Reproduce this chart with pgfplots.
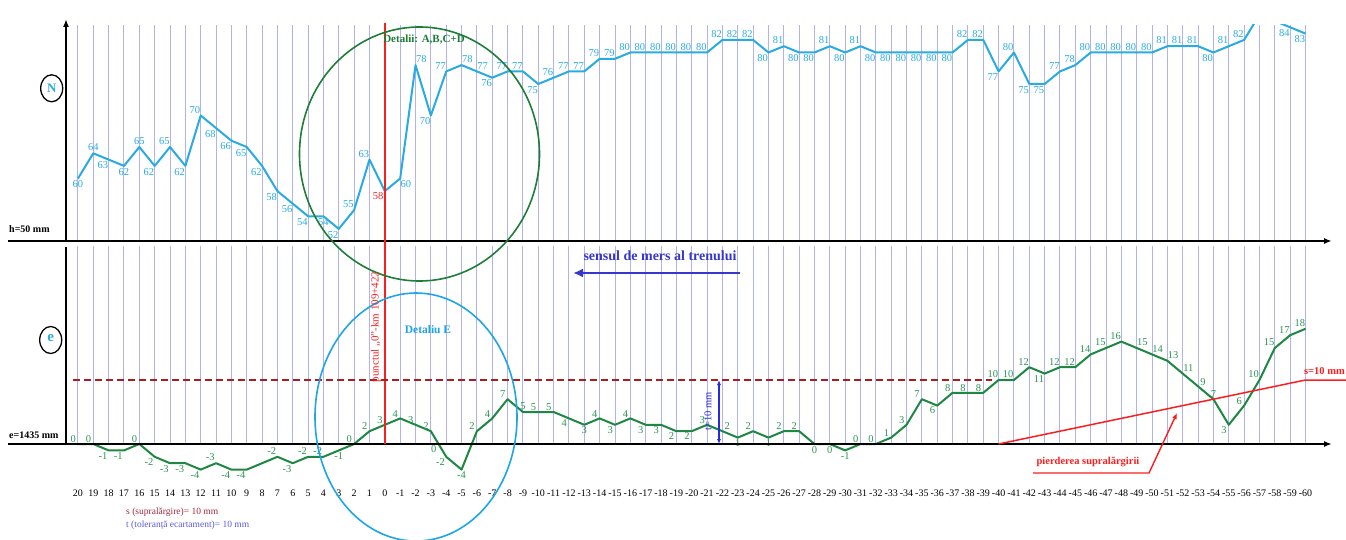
\documentclass[border=0pt]{standalone}
\usepackage{pgfplots}
\pgfplotsset{compat=1.18}
\usepackage{pgfplotstable}
\usepackage{fontspec}
\setmainfont{Liberation Serif}
\usetikzlibrary{arrows.meta}

\definecolor{nblue}{RGB}{41,171,226}
\definecolor{egreen}{RGB}{30,135,65}
\definecolor{elab}{RGB}{45,150,80}
\definecolor{gridc}{RGB}{178,178,238}
\definecolor{cgreen}{RGB}{30,125,55}
\definecolor{eblue}{RGB}{30,165,230}
\definecolor{dred}{RGB}{170,30,30}
\definecolor{sred}{RGB}{250,30,30}
\definecolor{sblue}{RGB}{55,55,205}
\definecolor{tblue}{RGB}{40,40,220}
\definecolor{noter}{RGB}{165,40,60}
\definecolor{notet}{RGB}{90,90,220}

% anc: anchor angle (90 = label below point, -90 = above, 45 = below-left, -45 = above-left, 135 = below-right, -135 = above-right)
\pgfplotstableread{
x y lab anc
20 60 60 90
19 64 64 -90
18 63 63 45
17 62 62 90
16 65 65 -90
15 62 62 45
14 65 65 -45
13 62 62 45
12 70 70 -45
11 68 68 45
10 66 66 45
9 65 65 45
8 62 62 45
7 58 58 45
6 56 56 45
5 54 54 45
4 54 54 90
3 52 52 45
2 55 55 -45
1 63 63 -45
0 58 {} 45
-1 60 60 135
-2 78 78 -135
-3 70 70 45
-4 77 77 -45
-5 78 78 -135
-6 77 77 -135
-7 76 76 45
-8 77 77 -45
-9 77 77 -45
-10 75 75 45
-11 76 76 -45
-12 77 77 -45
-13 77 77 -45
-14 79 79 -45
-15 79 79 -45
-16 80 80 -45
-17 80 80 -45
-18 80 80 -45
-19 80 80 -45
-20 80 80 -45
-21 80 80 -45
-22 82 82 -45
-23 82 82 -45
-24 82 82 -45
-25 80 80 45
-26 81 81 -45
-27 80 80 45
-28 80 80 45
-29 81 81 -45
-30 80 80 45
-31 81 81 -45
-32 80 80 45
-33 80 80 45
-34 80 80 45
-35 80 80 45
-36 80 80 45
-37 80 80 45
-38 82 82 -45
-39 82 82 -45
-40 77 77 45
-41 80 80 -45
-42 75 75 45
-43 75 75 45
-44 77 77 -45
-45 78 78 -45
-46 80 80 -45
-47 80 80 -45
-48 80 80 -45
-49 80 80 -45
-50 80 80 -45
-51 81 81 -45
-52 81 81 -45
-53 81 81 -45
-54 80 80 45
-55 81 81 -45
-56 82 82 -45
-57 86 86 -45
-58 85 85 45
-59 84 84 45
-60 83 83 45
}\Ndata

\pgfplotstableread{
x y lab anc
20 0 0 -45
19 0 0 -45
18 -1 -1 45
17 -1 -1 45
16 0 0 -45
15 -2 -2 45
14 -3 -3 45
13 -3 -3 45
12 -4 -4 45
11 -3 -3 -45
10 -4 -4 45
9 -4 -4 45
8 -3 {} 90
7 -2 -2 -45
6 -3 -3 45
5 -2 -2 -45
4 -2 -2 -45
3 -1 -1 90
2 0 0 -45
1 2 2 -45
0 3 3 -45
-1 4 4 -45
-2 3 3 -45
-3 2 2 -45
-3.5 0 0 45
-4 -2 -2 45
-5 -4 -4 90
-6 2 2 -45
-7 4 4 -45
-8 7 7 -45
-9 5 5 -90
-10 5 5 -45
-11 5 5 -45
-12 4 4 45
-13 3 3 90
-14 4 4 -45
-15 3 3 45
-16 4 4 -45
-17 3 3 45
-18 3 3 45
-19 2 2 45
-20 2 2 45
-21 3 3 -45
-22 2 2 -135
-23 1 1 90
-24 2 2 -45
-25 1 1 90
-26 2 2 -45
-27 2 2 -45
-28 0 0 90
-29 0 0 90
-30 -1 -1 90
-31 0 0 -45
-32 0 0 -45
-33 1 1 -45
-34 3 3 -45
-35 7 7 -45
-36 6 6 45
-37 8 8 -45
-38 8 8 -45
-39 8 8 -45
-40 10 10 -45
-41 10 10 -45
-42 12 12 -45
-43 11 11 45
-44 12 12 -45
-45 12 12 -45
-46 14 14 -45
-47 15 15 -45
-48 16 16 -45
-49 15 15 -135
-50 14 14 -135
-51 13 13 -135
-52 11 11 -135
-53 9 9 -135
-54 7 7 -90
-55 3 3 45
-56 6 6 -45
-57 10 10 -45
-58 15 15 -45
-59 17 17 -45
-60 18 18 -45
}\Edata

\pgfplotsset{
  myax/.style={
    scale only axis, anchor=south west,
    width=1264pt,
    x dir=reverse, xmin=-61.6, xmax=20.78,
    axis line style={draw=none}, tick style={draw=none},
    xtick={-60,...,20}, ytick=\empty,
    xmajorgrids, major grid style={gridc, line width=1pt},
  },
  lab/.style={
    nodes near coords, point meta=explicit symbolic,
    visualization depends on={\thisrow{anc}\as\myanc},
    every node near coord/.append style={font=\fontsize{10.5}{10.5}\selectfont, inner sep=1.2pt, anchor=\myanc},
  },
}

\begin{document}
\begin{tikzpicture}
\useasboundingbox (0pt,0pt) rectangle (1346pt,539pt);

% top panel: N
\begin{axis}[myax, at={(66pt,297.5pt)}, height=216.72pt,
  ymin=50, ymax=84.4, xticklabels={}, clip=true]
\addplot[nblue, line width=2pt, mark=none, line join=round, lab,
  every node near coord/.append style={text=nblue}]
  table[x=x, y=y, meta=lab]{\Ndata};
\addplot[draw=none, mark=none, nodes near coords, point meta=explicit symbolic,
  every node near coord/.append style={text=sred, font=\fontsize{10.5}{10.5}\selectfont, inner sep=1.2pt, anchor=north east}]
  coordinates {(0,58) [58]};
\end{axis}

% bottom panel: e
\begin{axis}[myax, at={(66pt,95pt)}, height=198.4pt,
  ymin=0, ymax=31, clip=false,
  xticklabels={-60,-59,-58,-57,-56,-55,-54,-53,-52,-51,-50,-49,-48,-47,-46,-45,-44,-43,-42,-41,-40,-39,-38,-37,-36,-35,-34,-33,-32,-31,-30,-29,-28,-27,-26,-25,-24,-23,-22,-21,-20,-19,-18,-17,-16,-15,-14,-13,-12,-11,-10,-9,-8,-7,-6,-5,-4,-3,-2,-1,0,1,2,3,4,5,6,7,8,9,10,11,12,13,14,15,16,17,18,19,20},
  xticklabel style={font=\fontsize{10}{10}\selectfont, anchor=center, yshift=-49pt}]
\addplot[egreen, line width=2pt, mark=none, line join=round, lab,
  every node near coord/.append style={text=elab}]
  table[x=x, y=y, meta=lab]{\Edata};
\end{axis}

\begin{scope}[x=1pt, y=-1pt, shift={(0pt,539pt)}]
  % axis lines
  \draw[line width=2pt, -{Latex[length=8pt,width=6pt]}] (8,241) -- (1332,241);
  \draw[line width=1.6pt, -{Latex[length=8pt,width=6pt]}] (66,241) -- (66,19);
  \draw[line width=2pt, -{Latex[length=8pt,width=6pt]}] (8,444) -- (1332,444);
  \draw[line width=1.6pt] (66,444) -- (66,247);
  % red zero line
  \draw[sred, line width=1.5pt] (385,23) -- (385,444);
  % s dashed line
  \draw[dred, line width=2pt, dash pattern=on 7pt off 4pt] (73,380) -- (992,380);
  % circles
  \draw[cgreen, line width=1.6pt] (419.5,154) ellipse [x radius=120, y radius=127];
  \draw[eblue, line width=1.6pt] (416,417) ellipse [x radius=101, y radius=124];
  \node[text=cgreen, font=\bfseries\fontsize{11}{11}\selectfont] at (424,40) {Detalii: A,B,C+D};
  \node[text=eblue, font=\bfseries\fontsize{11.5}{11.5}\selectfont] at (428,330) {Detaliu E};
  \node[rotate=90, text=sred, font=\fontsize{11}{11}\selectfont] at (376,327) {punctul „0”-km 109+422};
  % direction
  \node[text=sblue, font=\bfseries\fontsize{14}{14}\selectfont] at (660,256) {sensul de mers al trenului};
  \draw[sblue, line width=2.8pt, -{Latex[length=10pt,width=9pt]}] (740,273) -- (573,273);
  % tolerance arrow
  \draw[tblue, line width=1.4pt, {Latex[length=5pt,width=4pt]}-{Latex[length=5pt,width=4pt]}] (719,380) -- (719,444);
  \node[rotate=90, text=tblue, font=\fontsize{10.5}{10.5}\selectfont] at (708,411) {t=10 mm};
  % s line
  \draw[sred, line width=1.5pt] (998.5,444) -- (1305.5,380) -- (1346,380);
  \node[anchor=east, text=sred, font=\bfseries\fontsize{10.5}{10.5}\selectfont, inner sep=0pt] at (1345,371) {s=10 mm};
  \node[text=sred, font=\bfseries\fontsize{10.5}{10.5}\selectfont] at (1088,462) {pierderea supralărgirii};
  \draw[sred, line width=1.4pt, -{Latex[length=6pt,width=5pt]}] (1033,473) -- (1149,473) -- (1177,413);
  % left labels
  \draw[line width=1.3pt] (51.7,88.3) ellipse [x radius=11, y radius=13.5];
  \node[text=nblue, font=\bfseries\fontsize{13}{13}\selectfont] at (51.7,88.3) {N};
  \draw[line width=1.3pt] (50.7,340) ellipse [x radius=11, y radius=13.5];
  \node[text=nblue, font=\bfseries\fontsize{15}{15}\selectfont] at (50.7,338.5) {e};
  \node[anchor=west, inner sep=0pt, font=\bfseries\fontsize{10}{10}\selectfont] at (9,229) {h=50 mm};
  \node[anchor=west, inner sep=0pt, font=\bfseries\fontsize{10}{10}\selectfont] at (9,435) {e=1435 mm};
  % notes
  \node[anchor=west, inner sep=0pt, text=noter, font=\fontsize{9.5}{9.5}\selectfont] at (126,512) {s (supralărgire)= 10 mm};
  \node[anchor=west, inner sep=0pt, text=notet, font=\fontsize{9.5}{9.5}\selectfont] at (126,525) {t (toleranță ecartament)= 10 mm};
\end{scope}
\end{tikzpicture}
\end{document}
